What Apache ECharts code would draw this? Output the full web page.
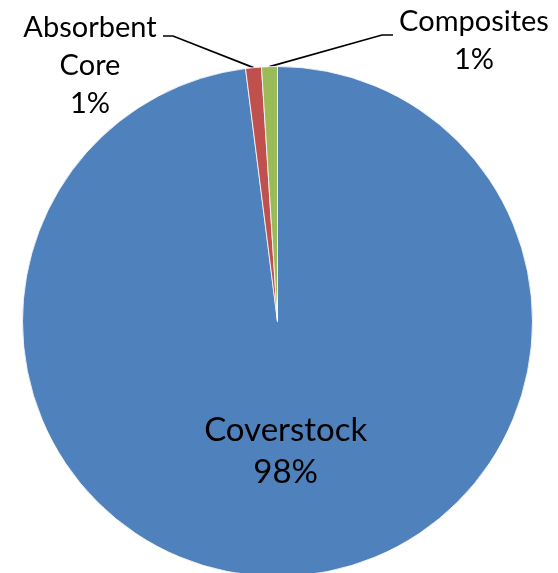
<!DOCTYPE html>
<html>
<head>
<meta charset="utf-8">
<script src="https://cdn.jsdelivr.net/npm/echarts@6/dist/echarts.min.js"></script>
<style>
  html, body { margin: 0; padding: 0; background: #fff; }
  #chart { width: 558px; height: 573px; }
</style>
</head>
<body>
<div id="chart"></div>
<script>
// Material share by component
const categories = ['Coverstock', 'Absorbent Core', 'Composites'];
const shares = [98, 1, 1];
const colors = ['#4F81BD', '#C0504D', '#9BBB59'];

const chart = echarts.init(document.getElementById('chart'), null, { renderer: 'canvas' });

const data = categories.map((name, i) => ({
  name: name,
  value: shares[i],
  itemStyle: { color: colors[i] },
  label: i === 0
    ? { position: 'inside', fontSize: 33, lineHeight: 42 }
    : { position: 'outside', fontSize: 29, lineHeight: 38 }
}));

// Outside label anchors: text centre and the elbow of each leader line
const outsideLabels = {
  1: { x: 90, y: 66, elbow: [173, 36], end: [163, 36] },
  2: { x: 474, y: 41, elbow: [382, 35], end: [393, 35] }
};

chart.setOption({
  animation: false,
  backgroundColor: '#ffffff',
  series: [{
    type: 'pie',
    center: [277.5, 321.5],
    radius: 255,
    startAngle: 90,
    clockwise: true,
    avoidLabelOverlap: false,
    silent: true,
    data: data,
    itemStyle: { borderColor: '#ffffff', borderWidth: 0.8 },
    label: {
      color: '#000000',
      fontFamily: 'Lato, "Liberation Sans", sans-serif',
      align: 'center',
      formatter: p => p.name.replace(' ', '\n') + '\n' + Math.round(p.percent) + '%'
    },
    labelLine: {
      show: true,
      length: 20,
      length2: 10,
      lineStyle: { color: '#000000', width: 1.7 }
    },
    labelLayout: function (params) {
      const cfg = outsideLabels[params.dataIndex];
      if (!cfg) return {};
      const start = params.labelLinePoints ? params.labelLinePoints[0] : cfg.elbow;
      return {
        x: cfg.x,
        y: cfg.y,
        align: 'center',
        verticalAlign: 'middle',
        labelLinePoints: [start, cfg.elbow, cfg.end]
      };
    }
  }]
});
</script>
</body>
</html>
